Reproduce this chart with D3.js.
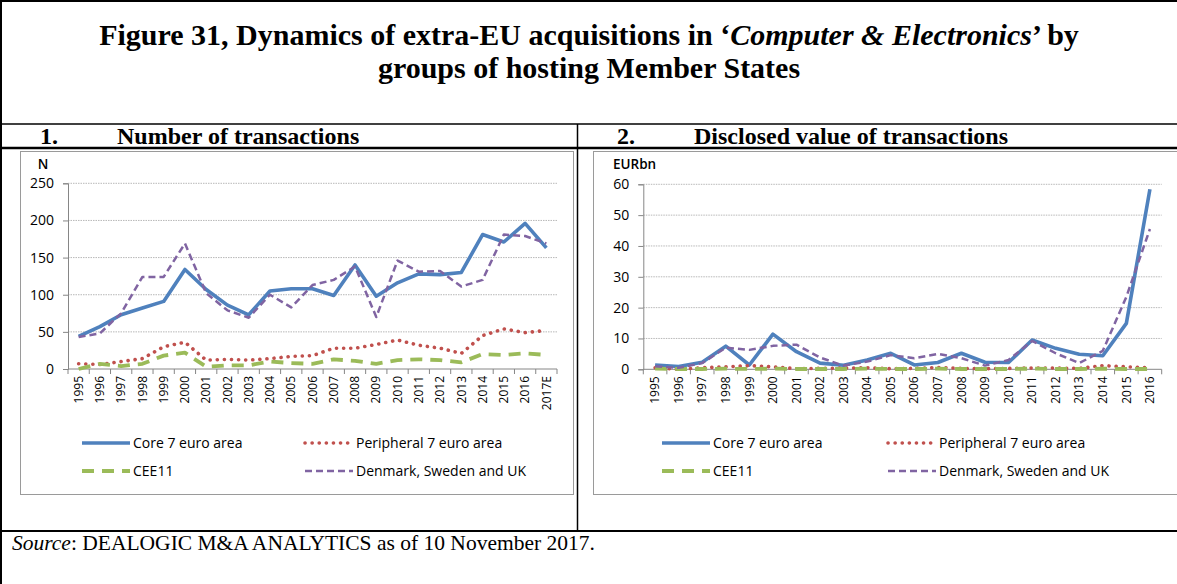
<!DOCTYPE html>
<html>
<head>
<meta charset="utf-8">
<script src="https://cdn.jsdelivr.net/npm/d3@7"></script>
<style>
  body { margin: 0; background: #fff; }
  svg { display: block; }
  .serif { font-family: "Liberation Serif", "Times New Roman", serif; }
  .sans { font-family: "Open Sans", "Noto Sans", sans-serif; }
</style>
</head>
<body>
<svg id="mySvg"></svg>
<script>
const W = 1177, H = 584;

// ---- data ----
const seriesNames = ["Core 7 euro area", "Peripheral 7 euro area", "CEE11", "Denmark, Sweden and UK"];

const years1 = ["1995","1996","1997","1998","1999","2000","2001","2002","2003","2004","2005","2006",
  "2007","2008","2009","2010","2011","2012","2013","2014","2015","2016","2017E"];
const core1   = [44,57,73,82,91,134,107,86,73,105,108,108,99,140,98,116,128,127,130,181,171,196,163];
const periph1 = [7,6,10,14,30,36,12,13,12,14,17,18,28,28,33,39,32,28,21,45,54,49,52];
const cee1    = [0,7,4,7,18,22,3,5,5,10,8,7,13,11,7,12,13,12,9,20,19,21,19];
const dsu1    = [43,48,75,124,124,169,102,79,69,100,83,113,120,138,70,146,131,132,111,120,181,179,169];
const yTicks1 = [0,50,100,150,200,250];

const years2 = ["1995","1996","1997","1998","1999","2000","2001","2002","2003","2004","2005","2006",
  "2007","2008","2009","2010","2011","2012","2013","2014","2015","2016"];
const core2   = [1.4,0.9,2.3,7.5,1.4,11.4,5.7,2,1.3,3,5.2,1.4,2.2,5.2,2.3,2.2,9.5,6.8,4.9,4.4,14.9,58.4];
const periph2 = [0.5,0,0.5,0.8,1.2,0.8,0.2,0.3,0.4,0.5,0.2,0.3,0.6,0.3,0.2,0.3,0.4,0.4,0.3,1.2,0.8,0.5];
const cee2    = [0.2,0.1,0.1,0.2,0.1,0.2,0.1,0.1,0.1,0.2,0.1,0.1,0.2,0.1,0.1,0.1,0.2,0.1,0.1,0.2,0.1,0.1];
const dsu2    = [1,0.5,2,7,6.3,7.6,8,3.8,1.2,2.5,4.6,3.6,5,3.6,1.2,3,9.2,5.2,2,6,23.5,45.5];
const yTicks2 = [0,10,20,30,40,50,60];

// line styles per series (same order as seriesNames)
const styles = [
  { color: "#4F81BD", width: 3.6, dash: null, cap: "butt" },
  { color: "#C0504D", width: 3.6, dash: "0.1 7", cap: "round" },
  { color: "#9BBB59", width: 3.8, dash: "12 8", cap: "butt" },
  { color: "#8064A2", width: 2.5, dash: "7 4", cap: "butt" }
];

const svg = d3.select("#mySvg").attr("width", W).attr("height", H);
svg.append("rect").attr("width", W).attr("height", H).attr("fill", "#fff");

// ---- table frame ----
const frame = svg.append("g").attr("stroke", "#000").attr("fill", "none");
frame.append("line").attr("x1", 0).attr("x2", W).attr("y1", 1).attr("y2", 1).attr("stroke-width", 2);
frame.append("line").attr("x1", 1).attr("x2", 1).attr("y1", 0).attr("y2", H).attr("stroke-width", 2);
frame.append("line").attr("x1", 0).attr("x2", W).attr("y1", 124).attr("y2", 124).attr("stroke-width", 1.5);
frame.append("line").attr("x1", 0).attr("x2", W).attr("y1", 148).attr("y2", 148).attr("stroke-width", 2.5);
frame.append("line").attr("x1", 577.5).attr("x2", 577.5).attr("y1", 124).attr("y2", 531).attr("stroke-width", 1.5);
frame.append("line").attr("x1", 0).attr("x2", W).attr("y1", 531).attr("y2", 531).attr("stroke-width", 2);

// ---- title ----
const title = svg.append("text").attr("class", "serif").attr("font-weight", "bold")
  .attr("font-size", 30).attr("text-anchor", "middle").attr("x", 589).attr("y", 45);
title.append("tspan").text("Figure 31, Dynamics of extra-EU acquisitions in \u2018");
title.append("tspan").attr("font-style", "italic").text("Computer & Electronics");
title.append("tspan").text("\u2019 by");
svg.append("text").attr("class", "serif").attr("font-weight", "bold")
  .attr("font-size", 30).attr("text-anchor", "middle").attr("x", 589).attr("y", 78)
  .text("groups of hosting Member States");

// header row
function header(x1, x2, num, label) {
  svg.append("text").attr("class", "serif").attr("font-weight", "bold").attr("font-size", 24)
    .attr("x", x1).attr("y", 144).text(num);
  svg.append("text").attr("class", "serif").attr("font-weight", "bold").attr("font-size", 24)
    .attr("x", x2).attr("y", 144).text(label);
}
header(40, 117, "1.", "Number of transactions");
header(617, 694, "2.", "Disclosed value of transactions");

// source
const src = svg.append("text").attr("class", "serif").attr("font-size", 21.5).attr("x", 12).attr("y", 550);
src.append("tspan").attr("font-style", "italic").text("Source");
src.append("tspan").text(": DEALOGIC M&A ANALYTICS as of 10 November 2017.");

// ---- chart ----
function drawChart(cfg) {
  const g = svg.append("g");

  // chart area box
  g.append("rect").attr("x", cfg.box[0]).attr("y", cfg.box[1])
    .attr("width", cfg.box[2]).attr("height", cfg.box[3])
    .attr("fill", "#fff").attr("stroke", "#9a9a9a").attr("stroke-width", 1);

  const x = d3.scaleBand().domain(cfg.years).range([cfg.left, cfg.right]);
  const y = d3.scaleLinear().domain([0, d3.max(cfg.ticks)]).range([cfg.bottom, cfg.top]);

  // gridlines
  g.selectAll(".grid").data(cfg.ticks.filter(d => d > 0)).enter().append("line")
    .attr("x1", cfg.left).attr("x2", cfg.right)
    .attr("y1", d => y(d)).attr("y2", d => y(d))
    .attr("stroke", "#b8b8b8").attr("stroke-width", 1).attr("stroke-dasharray", "1.5 1");

  // y axis
  const yAxis = d3.axisLeft(y).tickValues(cfg.ticks).tickSize(5).tickPadding(9);
  const ya = g.append("g").attr("transform", `translate(${cfg.left},0)`).call(yAxis);
  ya.select(".domain").attr("stroke", "#868686");
  ya.selectAll(".tick line").attr("stroke", "#868686");
  ya.selectAll("text").attr("class", "sans").attr("font-size", 14).attr("fill", "#000");

  // x axis (ticks at band edges)
  g.append("line").attr("x1", cfg.left).attr("x2", cfg.right)
    .attr("y1", cfg.bottom).attr("y2", cfg.bottom).attr("stroke", "#868686");
  const edges = cfg.years.map(d => x(d)).concat([cfg.right]);
  g.selectAll(".xt").data(edges).enter().append("line")
    .attr("x1", d => d).attr("x2", d => d)
    .attr("y1", cfg.bottom).attr("y2", cfg.bottom + 5).attr("stroke", "#868686");
  g.selectAll(".xl").data(cfg.years).enter().append("text")
    .attr("class", "sans").attr("font-size", 12)
    .attr("transform", d => `translate(${x(d) + x.bandwidth() / 2},${cfg.bottom + 7}) rotate(-90)`)
    .attr("text-anchor", "end").attr("dy", "0.35em").text(d => d);

  // unit label
  g.append("text").attr("class", "sans").attr("font-weight", 600).attr("font-size", 13.5)
    .attr("x", cfg.unitX).attr("y", 169).attr("text-anchor", cfg.unitAnchor).text(cfg.unit);

  // lines
  const line = d3.line()
    .x((d, i) => x(cfg.years[i]) + x.bandwidth() / 2)
    .y(d => y(d));
  cfg.series.forEach((s, k) => {
    const st = styles[k];
    g.append("path").datum(s).attr("d", line).attr("fill", "none")
      .attr("stroke", st.color).attr("stroke-width", st.width)
      .attr("stroke-dasharray", st.dash).attr("stroke-linecap", st.cap)
      .attr("stroke-linejoin", "round");
  });

  // legend
  seriesNames.forEach((name, k) => {
    const st = styles[k];
    const col = k % 2, row = Math.floor(k / 2);
    const lx = cfg.legend[col], ly = cfg.legendY[row];
    g.append("line").attr("x1", lx).attr("x2", lx + cfg.legendLen).attr("y1", ly).attr("y2", ly)
      .attr("stroke", st.color).attr("stroke-width", st.width)
      .attr("stroke-dasharray", st.dash).attr("stroke-linecap", st.cap);
    g.append("text").attr("class", "sans").attr("font-size", 14)
      .attr("x", lx + cfg.legendLen + 3).attr("y", ly).attr("dy", "0.35em").text(name);
  });
}

drawChart({
  box: [20.5, 151.5, 553, 343],
  left: 68, right: 557, top: 183.3, bottom: 369,
  years: years1, ticks: yTicks1,
  series: [core1, periph1, cee1, dsu1],
  unit: "N", unitX: 43, unitAnchor: "middle",
  legend: [82, 305], legendY: [443, 471], legendLen: 48
});

drawChart({
  box: [593.5, 151.5, 600, 343],
  left: 643.3, right: 1161.7, top: 184.3, bottom: 369.3,
  years: years2, ticks: yTicks2,
  series: [core2, periph2, cee2, dsu2],
  unit: "EURbn", unitX: 613, unitAnchor: "start",
  legend: [662, 888], legendY: [443, 471], legendLen: 48
});
</script>
</body>
</html>
